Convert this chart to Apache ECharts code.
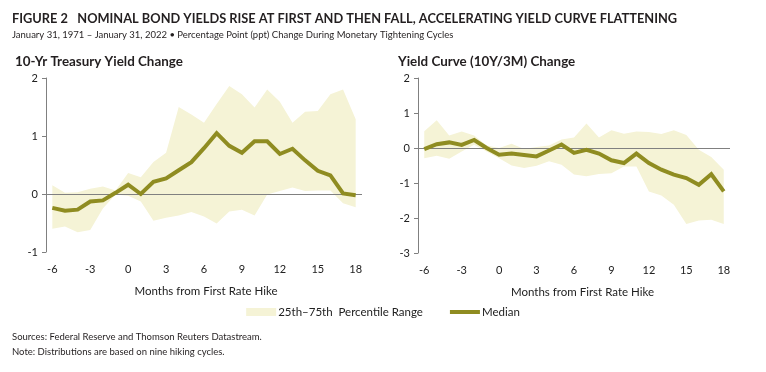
<!DOCTYPE html>
<html>
<head>
<meta charset="utf-8">
<script src="https://cdn.jsdelivr.net/npm/echarts@6/dist/echarts.min.js"></script>
<style>html,body{margin:0;padding:0;background:#fff}#c{width:766px;height:372px}</style>
</head>
<body>
<div id="c"></div>
<script>
// ---- Data ----
const months = ['-6','-5','-4','-3','-2','-1','0','1','2','3','4','5','6','7','8','9','10','11','12','13','14','15','16','17','18'];

const tsyMedian = [-0.24,-0.29,-0.27,-0.13,-0.11,0.02,0.16,0.00,0.21,0.27,0.41,0.55,0.79,1.05,0.83,0.71,0.91,0.91,0.69,0.78,0.58,0.40,0.32,0.01,-0.02];
const tsyP75    = [0.15,0.02,0.03,0.09,0.13,0.06,0.36,0.29,0.55,0.71,1.50,1.37,1.23,1.55,1.86,1.72,1.49,1.80,1.59,1.23,1.42,1.43,1.72,1.80,1.29];
const tsyP25    = [-0.60,-0.56,-0.66,-0.62,-0.25,-0.01,-0.03,-0.13,-0.46,-0.41,-0.37,-0.31,-0.39,-0.51,-0.30,-0.27,-0.37,-0.01,0.05,0.11,0.05,0.06,0.06,-0.16,-0.23];

const ycMedian = [-0.03,0.11,0.16,0.09,0.23,0.00,-0.19,-0.16,-0.20,-0.24,-0.07,0.10,-0.14,-0.05,-0.16,-0.35,-0.43,-0.16,-0.43,-0.62,-0.76,-0.86,-1.05,-0.75,-1.24];
const ycP75    = [0.48,0.79,0.36,0.47,0.36,0.07,0.00,0.12,-0.03,0.03,0.07,0.24,0.30,0.70,0.30,0.51,0.41,0.47,0.46,0.40,0.51,0.37,-0.05,-0.26,-0.62];
const ycP25    = [-0.29,-0.22,-0.31,-0.10,0.09,-0.10,-0.29,-0.50,-0.57,-0.51,-0.38,-0.48,-0.76,-0.81,-0.74,-0.72,-0.53,-0.53,-1.24,-1.36,-1.62,-2.17,-2.07,-2.05,-2.17];

const bandName = '25th\u201375th  Percentile Range';
const medianName = 'Median';

// ---- Styles ----
const OLIVE = '#8f8c21';
const BAND = '#f5f3d6';
const AXIS = '#808080';
const FONT = 'Lato, "Open Sans", sans-serif';

function diff(hi, lo){ return hi.map((v,i)=>+(v-lo[i]).toFixed(4)); }

function xAxisFor(gi, pad){
  return {
    type:'category', gridIndex:gi, data:months, boundaryGap:true,
    axisLine:{show:false}, axisTick:{show:false},
    axisLabel:{interval:2, margin:12, color:'#222', fontFamily:FONT, fontSize:11},
    name:'Months from First Rate Hike', nameLocation:'middle', nameGap:33,
    nameTextStyle:{color:'#222', fontFamily:FONT, fontSize:11.5, padding:[0,0,0,pad]}
  };
}
function yAxisFor(gi, min, max){
  return {
    type:'value', gridIndex:gi, min:min, max:max, interval:1,
    splitLine:{show:false},
    axisLine:{show:true, lineStyle:{color:AXIS, width:1}},
    axisTick:{show:true, length:4, lineStyle:{color:AXIS}},
    axisLabel:{margin:8, color:'#222', fontFamily:FONT, fontSize:11}
  };
}
function seriesFor(gi, lo, hi, med){
  const st = 'band'+gi;
  return [
    {type:'line', name:'lo'+gi, xAxisIndex:gi, yAxisIndex:gi, data:lo, stack:st, stackStrategy:'all',
     symbol:'none', silent:true, lineStyle:{opacity:0}, z:1},
    {type:'line', name:bandName, xAxisIndex:gi, yAxisIndex:gi, data:diff(hi,lo), stack:st, stackStrategy:'all',
     symbol:'none', silent:true, lineStyle:{opacity:0, width:0}, itemStyle:{color:BAND},
     areaStyle:{color:BAND, opacity:1}, z:1,
     markLine:{silent:true, symbol:'none', label:{show:false}, lineStyle:{color:AXIS, width:1, type:'solid'},
       data:[{yAxis:0}], animation:false}},
    {type:'line', name:medianName, xAxisIndex:gi, yAxisIndex:gi, data:med, symbol:'none',
     lineStyle:{color:OLIVE, width:4, join:'miter'}, itemStyle:{color:OLIVE}, z:5}
  ];
}

const chart = echarts.init(document.getElementById('c'), null, {renderer:'canvas'});
chart.setOption({
  animation:false,
  title:[
    {text:'FIGURE 2   NOMINAL BOND YIELDS RISE AT FIRST AND THEN FALL, ACCELERATING YIELD CURVE FLATTENING',
     left:12, top:12, padding:0, textStyle:{fontFamily:FONT, fontWeight:'bold', fontSize:12.8, color:'#231f20'}},
    {text:'January 31, 1971 \u2013 January 31, 2022 \u2022 Percentage Point (ppt) Change During Monetary Tightening Cycles',
     left:12, top:30, padding:0, textStyle:{fontFamily:FONT, fontWeight:'normal', fontSize:9.5, color:'#231f20'}},
    {text:'10-Yr Treasury Yield Change', left:15, top:55, padding:0,
     textStyle:{fontFamily:FONT, fontWeight:'bold', fontSize:13.4, color:'#231f20'}},
    {text:'Yield Curve (10Y/3M) Change', left:398, top:55, padding:0,
     textStyle:{fontFamily:FONT, fontWeight:'bold', fontSize:13.4, color:'#231f20'}},
    {text:'Sources: Federal Reserve and Thomson Reuters Datastream.', left:12, top:332, padding:0,
     textStyle:{fontFamily:FONT, fontWeight:'normal', fontSize:9.5, color:'#231f20'}},
    {text:'Note: Distributions are based on nine hiking cycles.', left:12, top:347, padding:0,
     textStyle:{fontFamily:FONT, fontWeight:'normal', fontSize:9.5, color:'#231f20'}}
  ],
  legend:{
    top:301, left:'center', itemWidth:30, itemHeight:8, itemGap:27, symbolKeepAspect:true,
    textStyle:{fontFamily:FONT, fontSize:11.5, color:'#222', padding:[0,0,0,-3]},
    data:[{name:bandName, icon:'rect', itemStyle:{color:BAND}},
          {name:medianName, icon:'path://M0 0H30V4H0Z', itemStyle:{color:OLIVE, borderWidth:0}}],
    selectedMode:false
  },
  grid:[
    {left:46, right:404, top:78, bottom:120, containLabel:false},
    {left:418, right:36, top:78, bottom:119, containLabel:false}
  ],
  xAxis:[xAxisFor(0,4), xAxisFor(1,17)],
  yAxis:[yAxisFor(0,-1,2), yAxisFor(1,-3,2)],
  series:[].concat(seriesFor(0,tsyP25,tsyP75,tsyMedian), seriesFor(1,ycP25,ycP75,ycMedian))
});
</script>
</body>
</html>
